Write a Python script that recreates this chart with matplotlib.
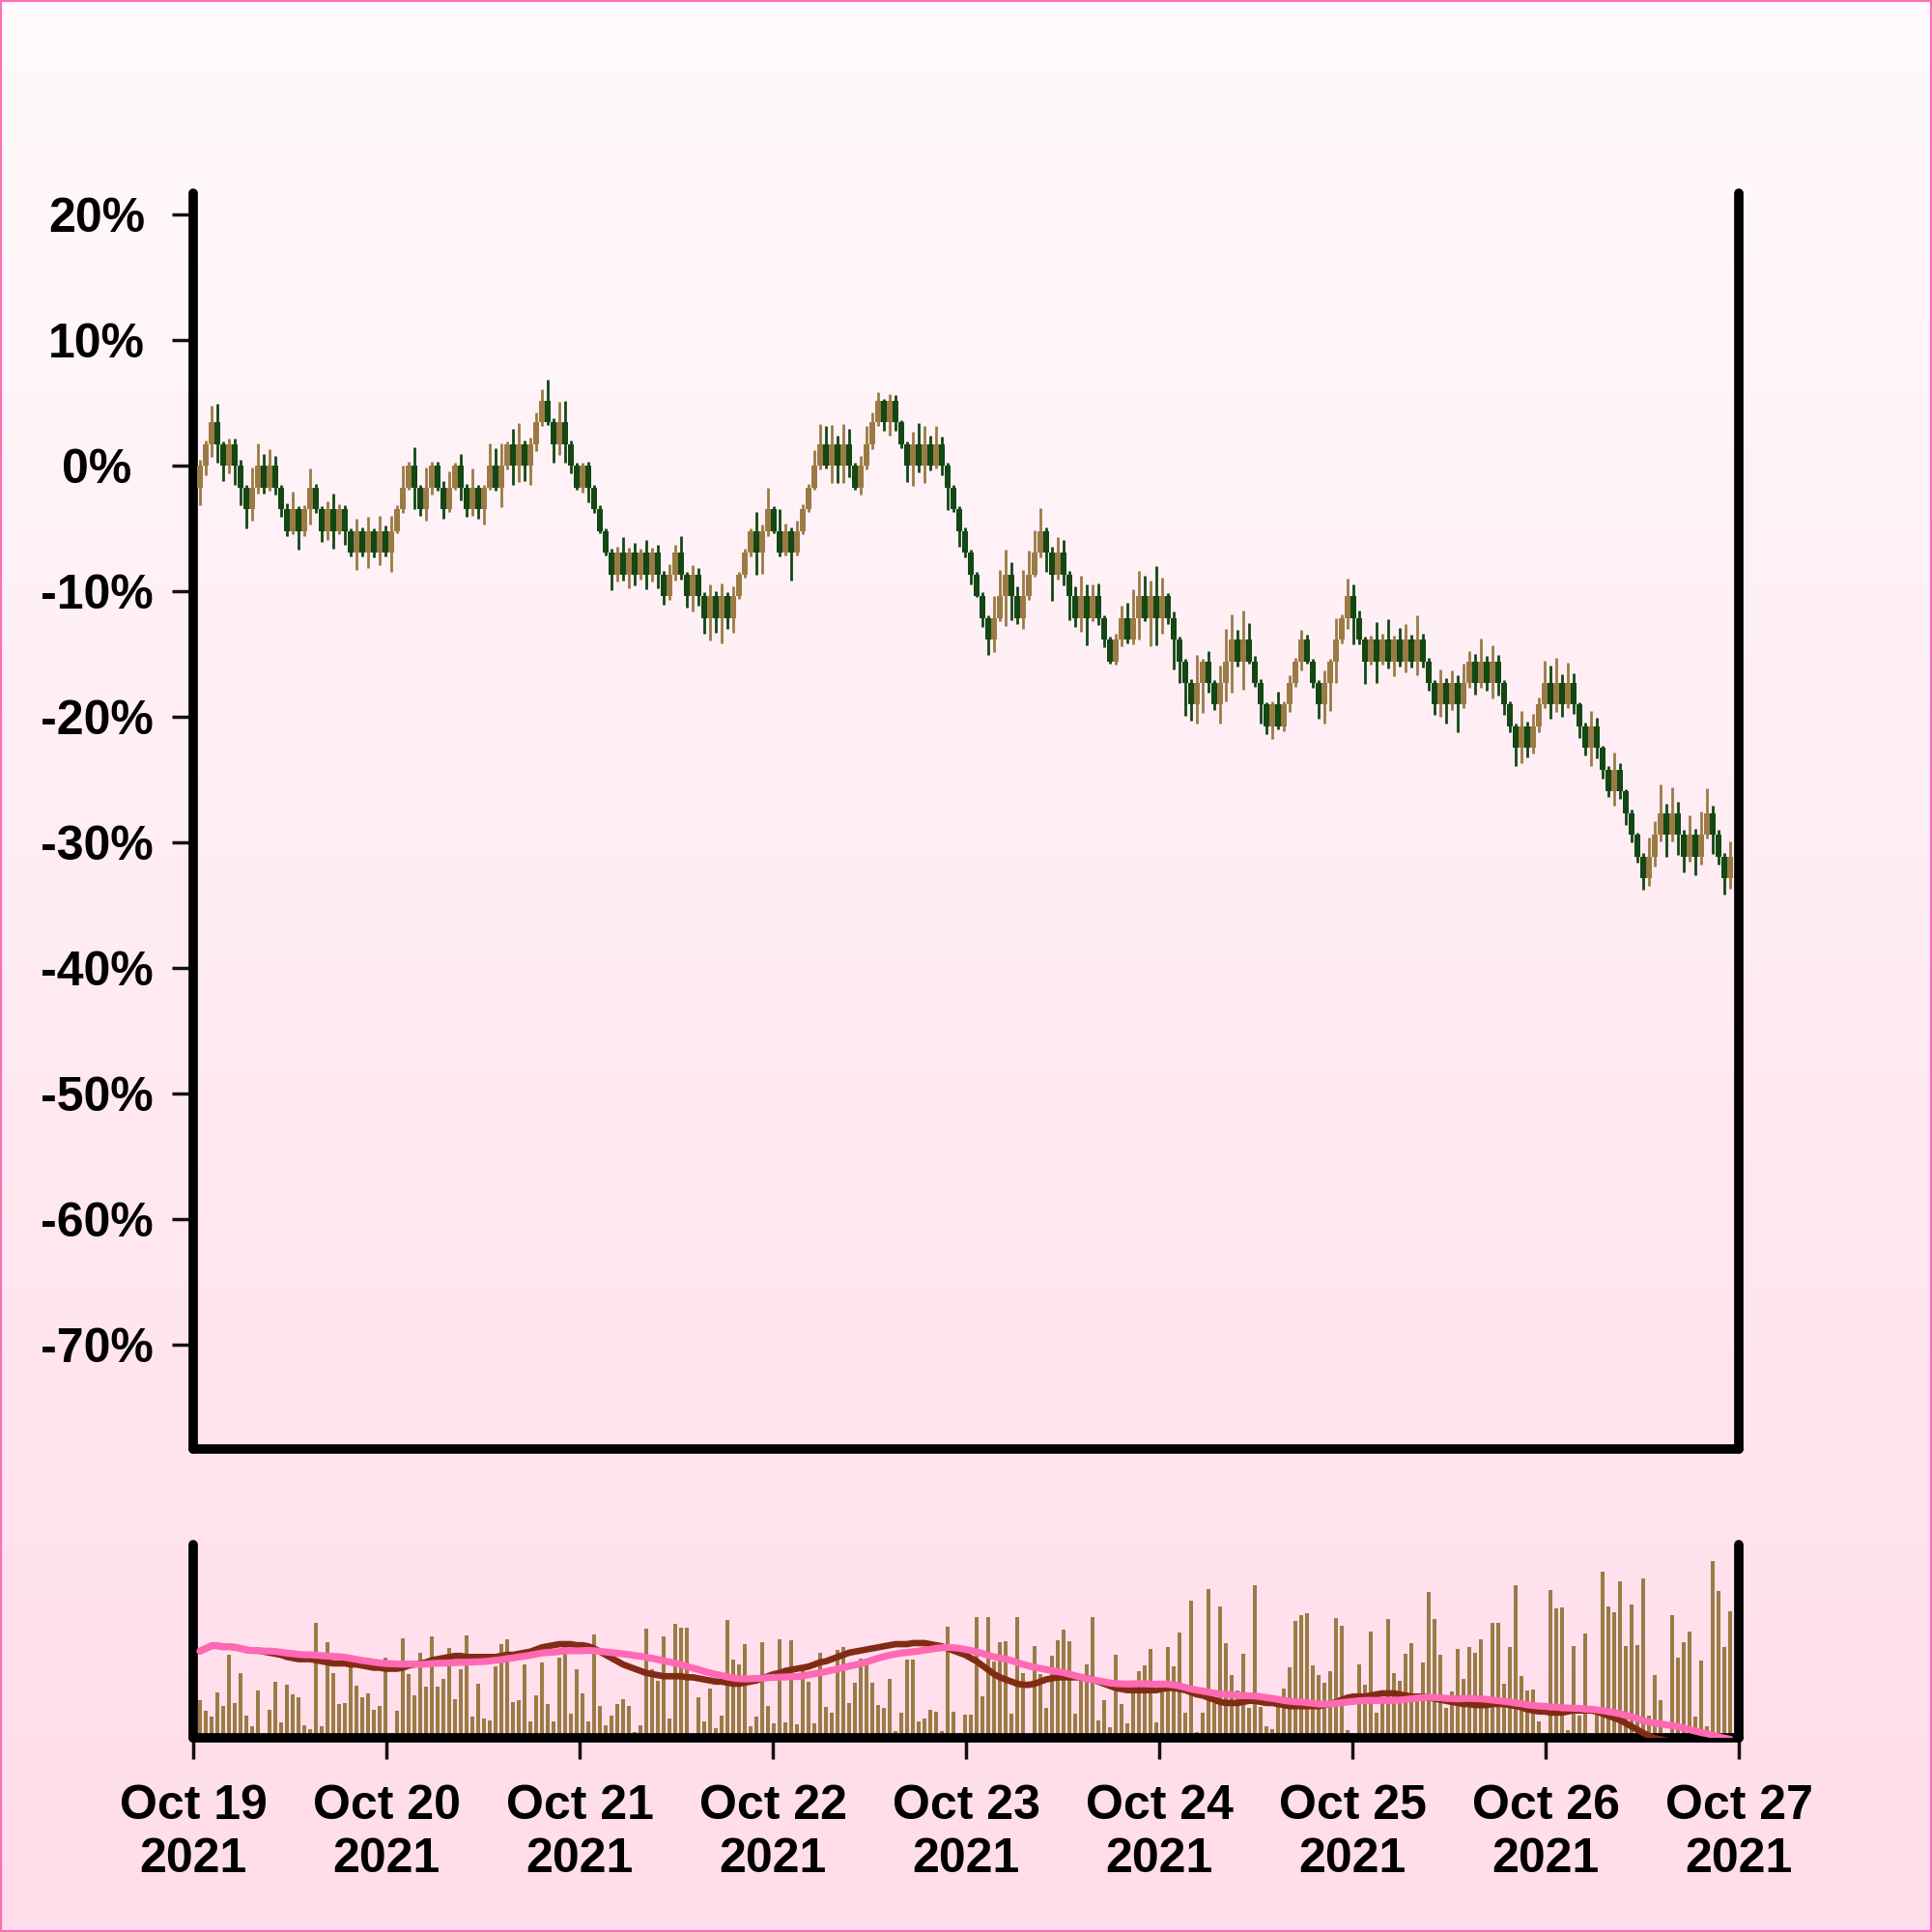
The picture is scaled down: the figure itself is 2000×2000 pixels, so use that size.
import numpy as np
import pandas as pd
import matplotlib
matplotlib.use("Agg")
import matplotlib.pyplot as plt
import matplotlib.dates as mdates
from matplotlib.patches import Rectangle
from matplotlib.colors import to_rgb

# ---------------- data ----------------
BRICK_PCT = 1.73            # size of one price step, in percent
FIRST_OPEN_LEVEL = -1
CLOSE_LEVELS = [
    0, 1, 2, 1, 0, 1, 0, -1, -2, -1,
    0, -1, 0, -1, -2, -3, -2, -3, -2, -1,
    -2, -3, -2, -3, -2, -3, -4, -3, -4, -3,
    -4, -3, -4, -3, -2, -1, 0, -1, -2, -1,
    0, -1, -2, -1, 0, -1, -2, -1, -2, -1,
    0, -1, 0, 1, 0, 1, 0, 1, 2, 3,
    2, 1, 2, 1, 0, -1, 0, -1, -2, -3,
    -4, -5, -4, -5, -4, -5, -4, -5, -4, -5,
    -6, -5, -4, -5, -6, -5, -6, -7, -6, -7,
    -6, -7, -6, -5, -4, -3, -4, -3, -2, -3,
    -4, -3, -4, -3, -2, -1, 0, 1, 0, 1,
    0, 1, 0, -1, 0, 1, 2, 3, 2, 3,
    2, 1, 0, 1, 0, 1, 0, 1, 0, -1,
    -2, -3, -4, -5, -6, -7, -8, -7, -6, -5,
    -6, -7, -6, -5, -4, -3, -4, -5, -4, -5,
    -6, -7, -6, -7, -6, -7, -8, -9, -8, -7,
    -8, -7, -6, -7, -6, -7, -6, -7, -8, -9,
    -10, -11, -10, -9, -10, -11, -10, -9, -8, -9,
    -8, -9, -10, -11, -12, -11, -12, -11, -10, -9,
    -8, -9, -10, -11, -10, -9, -8, -7, -6, -7,
    -8, -9, -8, -9, -8, -9, -8, -9, -8, -9,
    -8, -9, -10, -11, -10, -11, -10, -11, -10, -9,
    -10, -9, -10, -9, -10, -11, -12, -13, -12, -13,
    -12, -11, -10, -11, -10, -11, -10, -11, -12, -13,
    -12, -13, -14, -15, -14, -15, -16, -17, -18, -19,
    -18, -17, -16, -17, -16, -17, -18, -17, -18, -17,
    -16, -17, -18, -19, -18,
]
UPPER_WICK_PCT = [
    0.5, 0.3, 1.3, 1.5, 0.2, 0.4, 0.4, 0.5, 0.2, 1.6,
    1.8, 0.9, 1.3, 0.8, 0.2, 0.5, 1.4, 0.2, 0.3, 1.5,
    0.3, 0.2, 0.6, 1.2, 0.4, 0.3, 0.2, 1.0, 0.3, 1.1,
    0.2, 1.2, 0.4, 1.2, 0.3, 1.7, 0.3, 1.5, 0.2, 1.6,
    0.3, 0.3, 0.5, 1.3, 0.2, 0.9, 0.3, 1.5, 0.2, 0.2,
    1.8, 1.4, 1.8, 0.2, 1.2, 1.7, 0.3, 0.5, 0.8, 0.9,
    1.7, 0.3, 1.6, 1.7, 0.3, 0.2, 0.2, 0.3, 0.2, 0.3,
    0.2, 0.3, 0.5, 1.2, 0.4, 0.8, 0.3, 1.0, 0.4, 0.6,
    0.3, 0.8, 0.6, 1.3, 0.2, 0.7, 0.5, 0.3, 0.9, 0.4,
    1.0, 0.3, 0.8, 0.2, 0.3, 0.2, 1.5, 0.5, 1.7, 0.2,
    1.7, 0.6, 0.3, 0.8, 0.4, 0.3, 1.2, 1.6, 1.4, 1.5,
    0.7, 1.6, 1.2, 0.2, 0.8, 1.4, 0.8, 0.7, 0.1, 0.5,
    0.4, 0.2, 0.2, 1.0, 1.7, 1.4, 0.7, 1.4, 0.6, 0.2,
    0.2, 0.2, 0.3, 0.2, 0.2, 0.3, 0.2, 1.7, 2.1, 2.0,
    1.0, 0.8, 2.1, 1.9, 1.8, 1.8, 0.3, 0.5, 1.2, 1.0,
    0.3, 0.8, 1.6, 0.9, 0.9, 1.0, 0.2, 0.2, 0.5, 1.0,
    1.2, 2.3, 2.0, 1.6, 1.2, 2.4, 1.5, 0.2, 0.5, 0.2,
    0.2, 0.3, 2.2, 0.2, 0.8, 0.2, 1.4, 2.6, 2.0, 0.8,
    2.3, 1.3, 0.4, 0.3, 0.2, 0.3, 1.0, 0.3, 0.6, 0.3,
    0.8, 0.4, 0.2, 0.2, 1.0, 0.2, 1.7, 0.3, 1.4, 0.9,
    0.6, 0.2, 0.3, 1.4, 0.5, 1.6, 0.3, 0.9, 1.2, 0.4,
    1.9, 0.5, 0.3, 0.2, 1.1, 0.4, 1.0, 0.6, 1.5, 0.8,
    0.6, 1.8, 0.4, 1.3, 0.5, 0.2, 0.3, 0.2, 1.2, 0.4,
    1.0, 0.6, 1.8, 1.4, 2.0, 0.7, 1.6, 0.8, 0.2, 0.3,
    1.2, 0.7, 0.2, 0.3, 1.4, 0.5, 0.2, 0.3, 0.2, 0.3,
    1.5, 1.1, 2.3, 0.8, 2.1, 0.9, 0.4, 1.6, 0.5, 1.9,
    2.0, 0.6, 0.4, 0.3, 1.2,
]
LOWER_WICK_PCT = [
    1.4, 0.8, 1.0, 1.5, 1.2, 0.6, 1.5, 1.4, 1.5, 0.9,
    0.5, 0.5, 0.3, 0.6, 0.6, 0.4, 0.3, 1.5, 0.4, 1.2,
    0.3, 0.9, 0.7, 1.4, 0.3, 1.1, 0.3, 1.4, 0.3, 1.2,
    0.4, 1.0, 0.3, 1.5, 0.2, 0.3, 0.2, 1.7, 0.5, 0.9,
    0.6, 0.3, 0.8, 0.2, 0.2, 1.0, 0.6, 0.5, 0.8, 1.2,
    0.2, 0.3, 1.6, 0.3, 1.5, 1.3, 1.2, 1.5, 0.6, 0.3,
    0.2, 1.5, 0.9, 1.5, 0.6, 0.2, 0.4, 1.2, 0.3, 0.2,
    0.2, 1.3, 0.6, 0.5, 1.1, 0.9, 0.4, 1.2, 0.6, 1.1,
    0.7, 0.3, 0.5, 0.4, 0.9, 1.2, 0.8, 1.3, 1.8, 1.2,
    2.0, 0.9, 1.2, 0.2, 0.3, 0.3, 1.8, 1.7, 0.4, 0.2,
    0.3, 0.2, 2.2, 0.2, 0.3, 0.2, 0.2, 0.3, 0.2, 1.4,
    1.4, 1.4, 0.9, 0.2, 0.6, 0.3, 0.4, 0.3, 0.7, 1.1,
    0.7, 0.3, 1.3, 1.6, 0.5, 1.4, 0.4, 0.2, 0.8, 1.8,
    0.2, 1.3, 0.4, 0.8, 0.1, 0.7, 1.2, 1.0, 0.3, 2.4,
    1.9, 0.5, 0.9, 0.3, 0.2, 0.4, 1.5, 2.1, 0.4, 0.9,
    1.9, 0.7, 1.1, 2.2, 0.3, 0.6, 0.6, 0.2, 0.3, 0.5,
    0.3, 0.4, 1.7, 0.3, 2.3, 2.2, 1.3, 0.5, 2.4, 1.7,
    2.6, 1.3, 1.5, 2.4, 0.8, 0.4, 1.5, 1.5, 2.5, 0.4,
    2.3, 0.2, 0.3, 1.5, 0.6, 1.0, 0.2, 0.4, 0.6, 0.3,
    0.7, 0.2, 0.4, 1.1, 1.5, 2.2, 1.7, 0.3, 0.9, 2.1,
    0.4, 1.8, 0.3, 1.7, 0.3, 0.6, 1.2, 0.4, 0.9, 0.5,
    1.1, 0.5, 0.6, 0.8, 1.0, 1.5, 0.4, 2.2, 0.3, 0.4,
    0.9, 0.4, 0.6, 1.2, 1.0, 0.8, 0.5, 1.4, 1.2, 0.7,
    0.4, 0.5, 0.3, 1.1, 0.6, 1.0, 0.3, 0.7, 0.9, 0.6,
    1.4, 0.8, 0.7, 0.4, 1.1, 0.6, 0.9, 0.6, 0.5, 0.9,
    0.6, 0.8, 0.5, 1.7, 0.5, 1.6, 1.2, 0.4, 1.5, 0.6,
    0.3, 1.5, 0.6, 1.3, 0.8,
]
VOLUME = [
    116, 84, 64, 139, 99, 258, 107, 201, 67, 35,
    145, 14, 85, 172, 47, 165, 134, 125, 38, 27,
    355, 34, 295, 199, 103, 108, 218, 161, 126, 138,
    85, 97, 247, 14, 82, 308, 196, 131, 262, 158,
    313, 158, 182, 277, 118, 213, 316, 64, 168, 58,
    53, 221, 290, 306, 110, 115, 228, 51, 132, 232,
    103, 49, 248, 281, 74, 212, 138, 50, 319, 99,
    38, 67, 103, 120, 97, 17, 38, 337, 211, 175,
    314, 58, 353, 342, 342, 14, 125, 50, 153, 29,
    69, 366, 242, 227, 290, 35, 66, 295, 97, 43,
    304, 47, 301, 40, 216, 174, 45, 262, 95, 77,
    273, 282, 106, 169, 245, 244, 171, 101, 93, 181,
    19, 77, 242, 242, 49, 58, 85, 81, 21, 345,
    81, 14, 71, 70, 373, 129, 375, 236, 295, 298,
    74, 373, 199, 14, 285, 196, 91, 253, 301, 336,
    298, 74, 186, 228, 373, 53, 115, 31, 258, 105,
    43, 146, 205, 225, 274, 48, 140, 280, 220, 326,
    77, 426, 16, 77, 461, 107, 406, 294, 193, 146,
    261, 91, 472, 94, 35, 25, 106, 151, 218, 362,
    379, 387, 224, 195, 170, 206, 372, 346, 22, 14,
    226, 165, 330, 76, 126, 367, 199, 177, 260, 292,
    136, 234, 452, 367, 257, 93, 143, 276, 183, 281,
    263, 305, 94, 356, 356, 167, 280, 472, 190, 146,
    148, 49, 14, 458, 401, 404, 22, 284, 69, 322,
    14, 86, 514, 408, 390, 486, 284, 412, 286, 494,
    68, 195, 116, 14, 380, 247, 296, 330, 66, 239,
    35, 548, 454, 281, 393,
]
START_TIME = "2021-10-19 00:50:24"
BAR_SECONDS = 2592
MA_FAST, MA_SLOW = 10, 25
Y_TICKS = [20, 10, 0, -10, -20, -30, -40, -50, -60, -70]
X_TICK_DATES = ["2021-10-19", "2021-10-20", "2021-10-21", "2021-10-22", "2021-10-23",
                "2021-10-24", "2021-10-25", "2021-10-26", "2021-10-27"]
X_TICK_LABELS = ["Oct 19\n2021", "Oct 20\n2021", "Oct 21\n2021", "Oct 22\n2021", "Oct 23\n2021",
                 "Oct 24\n2021", "Oct 25\n2021", "Oct 26\n2021", "Oct 27\n2021"]

# ---------------- derived ----------------
n = len(CLOSE_LEVELS)
times = pd.date_range(START_TIME, periods=n, freq=f"{BAR_SECONDS}s")
x = mdates.date2num(times.to_pydatetime())
step = BAR_SECONDS / 86400.0
close = np.array(CLOSE_LEVELS, dtype=float) * BRICK_PCT
opn = np.concatenate([[FIRST_OPEN_LEVEL * BRICK_PCT], close[:-1]])
top = np.maximum(opn, close)
bot = np.minimum(opn, close)
high = top + np.array(UPPER_WICK_PCT)
low = bot - np.array(LOWER_WICK_PCT)
UP, DOWN = "#9b7b45", "#134713"
colors = [UP if c >= o else DOWN for o, c in zip(opn, close)]
ma_fast = pd.Series(close).rolling(MA_FAST, min_periods=1).mean().values
ma_slow = pd.Series(close).rolling(MA_SLOW, min_periods=1).mean().values

FONT = dict(family="Liberation Sans", weight="bold", size=36)

fig = plt.figure(figsize=(20, 20), dpi=100)

# gradient background
bg = fig.add_axes([0, 0, 1, 1], zorder=-10)
c_top, c_bot = np.array(to_rgb("#fffafc")), np.array(to_rgb("#ffdcea"))
t = np.linspace(0, 1, 256)[:, None]
grad = (c_top[None, :] * (1 - t) + c_bot[None, :] * t)[:, None, :]
bg.imshow(grad, aspect="auto", extent=[0, 1, 0, 1])
bg.axis("off")
fig.patches.append(Rectangle((0.0005, 0.0005), 0.999, 0.999, transform=fig.transFigure,
                             fill=False, edgecolor="#ff6eb4", linewidth=1.5))

ax = fig.add_axes([0.1, 0.25, 0.8, 0.65])
axv = fig.add_axes([0.1, 0.10075, 0.8, 0.1], sharex=ax)
for a in (ax, axv):
    a.set_facecolor("none")
    a.spines["top"].set_visible(False)
    for s in ("left", "right", "bottom"):
        a.spines[s].set_linewidth(7)
        a.spines[s].set_color("black")
        a.spines[s].set_capstyle("round")

# candles
ax.vlines(x, low, high, colors=colors, linewidth=2.0, zorder=2)
ax.bar(x, top - bot, width=step * 1.1, bottom=bot, color=colors, linewidth=0, zorder=3)
ax.set_ylim(-78.3, 21.7)
ax.set_xlim(mdates.date2num(pd.Timestamp(X_TICK_DATES[0])),
            mdates.date2num(pd.Timestamp(X_TICK_DATES[-1])))
ax.set_yticks(Y_TICKS)
ax.set_yticklabels([f"{v}%" for v in Y_TICKS], fontdict=FONT)
ax.tick_params(axis="y", length=16, width=2.5, pad=56, color="#111111")
for lbl in ax.get_yticklabels():
    lbl.set_horizontalalignment("center")
ax.tick_params(axis="x", bottom=False, labelbottom=False)

# volume
axv.bar(x, VOLUME, width=0.62 * step, color=UP, linewidth=0, zorder=2)
axv.set_ylim(0, 600)
axv.set_yticks([])
tick_nums = [mdates.date2num(pd.Timestamp(d)) for d in X_TICK_DATES]
axv.set_xticks(tick_nums)
axv.set_xticklabels(X_TICK_LABELS, fontdict=FONT, linespacing=1.26, ha="center")
axv.tick_params(axis="x", length=16, width=2.5, pad=19, color="#111111")

axm = axv.twinx()
for s in axm.spines.values():
    s.set_visible(False)
axm.set_yticks([])
axm.plot(x, ma_fast, color="#822b14", linewidth=4.8, solid_capstyle="round", zorder=3)
axm.plot(x, ma_slow, color="#ff69b4", linewidth=5.2, solid_capstyle="round", zorder=4)
axm.set_ylim(-27.9, 34.6)
axm.set_xlim(ax.get_xlim())

fig.savefig("out.png", dpi=100)
